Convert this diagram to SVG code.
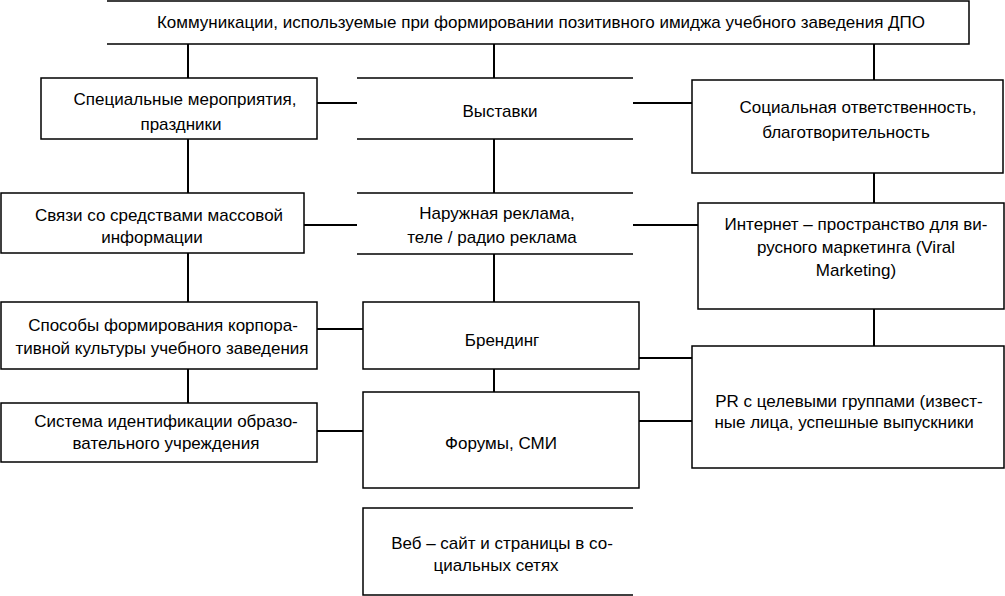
<svg xmlns="http://www.w3.org/2000/svg" width="1005" height="596" viewBox="0 0 1005 596">
<style>
.bx{fill:none;stroke:#000;stroke-width:1.5}
.ln{fill:none;stroke:#000;stroke-width:2}
text{font-family:"Liberation Sans",Arial,sans-serif;font-size:17px;fill:#000;text-anchor:middle}
</style>
<rect width="1005" height="596" fill="#fff"/>
<g id="connectors">
<path class="ln" d="M188 44V78M188 139V193M188 253V302M188 369V403"/>
<path class="ln" d="M494 44V78M494 139V193M494 254V302M494 369V392"/>
<path class="ln" d="M874 44V80M874 173V203M874 309V346"/>
<path class="ln" d="M317 103H357M633 103H692M304 225H357M633 225H698M317 329H363M317 431H363M639 358H692M639 421H692"/>
</g>
<g id="title">
<path class="bx" d="M107 1H969V44H107"/>
<text x="541" y="28">Коммуникации, используемые при формировании позитивного имиджа учебного заведения ДПО</text>
</g>
<g id="special">
<rect class="bx" x="41" y="78" width="276" height="61"/>
<text x="185" y="105">Специальные мероприятия,</text>
<text x="181" y="130">праздники</text>
</g>
<g id="exhibitions">
<path class="bx" d="M357 78H633M357 139H633"/>
<text x="500" y="117">Выставки</text>
</g>
<g id="social">
<rect class="bx" x="692" y="80" width="311" height="93"/>
<text x="858" y="113">Социальная ответственность,</text>
<text x="846" y="138">благотворительность</text>
</g>
<g id="media">
<rect class="bx" x="1" y="193" width="303" height="60"/>
<text x="159" y="221">Связи со средствами массовой</text>
<text x="152" y="243">информации</text>
</g>
<g id="outdoor">
<path class="bx" d="M357 193H633M357 254H633"/>
<text x="497" y="219">Наружная реклама,</text>
<text x="492" y="243">теле / радио реклама</text>
</g>
<g id="internet">
<rect class="bx" x="698" y="203" width="306" height="106"/>
<text x="856" y="230">Интернет – пространство для ви-</text>
<text x="856" y="253">русного маркетинга (Viral</text>
<text x="856" y="276">Marketing)</text>
</g>
<g id="culture">
<rect class="bx" x="1" y="302" width="316" height="67"/>
<text x="163" y="331">Способы формирования корпора-</text>
<text x="162" y="354">тивной культуры учебного заведения</text>
</g>
<g id="branding">
<rect class="bx" x="363" y="302" width="276" height="67"/>
<text x="502" y="346">Брендинг</text>
</g>
<g id="pr">
<rect class="bx" x="692" y="346" width="312" height="122"/>
<text x="849" y="407">PR с целевыми группами (извест-</text>
<text x="844" y="428">ные лица, успешные выпускники</text>
</g>
<g id="identity">
<rect class="bx" x="1" y="403" width="316" height="59"/>
<text x="166" y="427">Система идентификации образо-</text>
<text x="166" y="449">вательного учреждения</text>
</g>
<g id="forums">
<rect class="bx" x="363" y="392" width="276" height="96"/>
<text x="501" y="449">Форумы, СМИ</text>
</g>
<g id="web">
<path class="bx" d="M633 508H363V595H633"/>
<text x="502" y="549">Веб – сайт и страницы в со-</text>
<text x="496" y="571">циальных сетях</text>
</g>
</svg>
